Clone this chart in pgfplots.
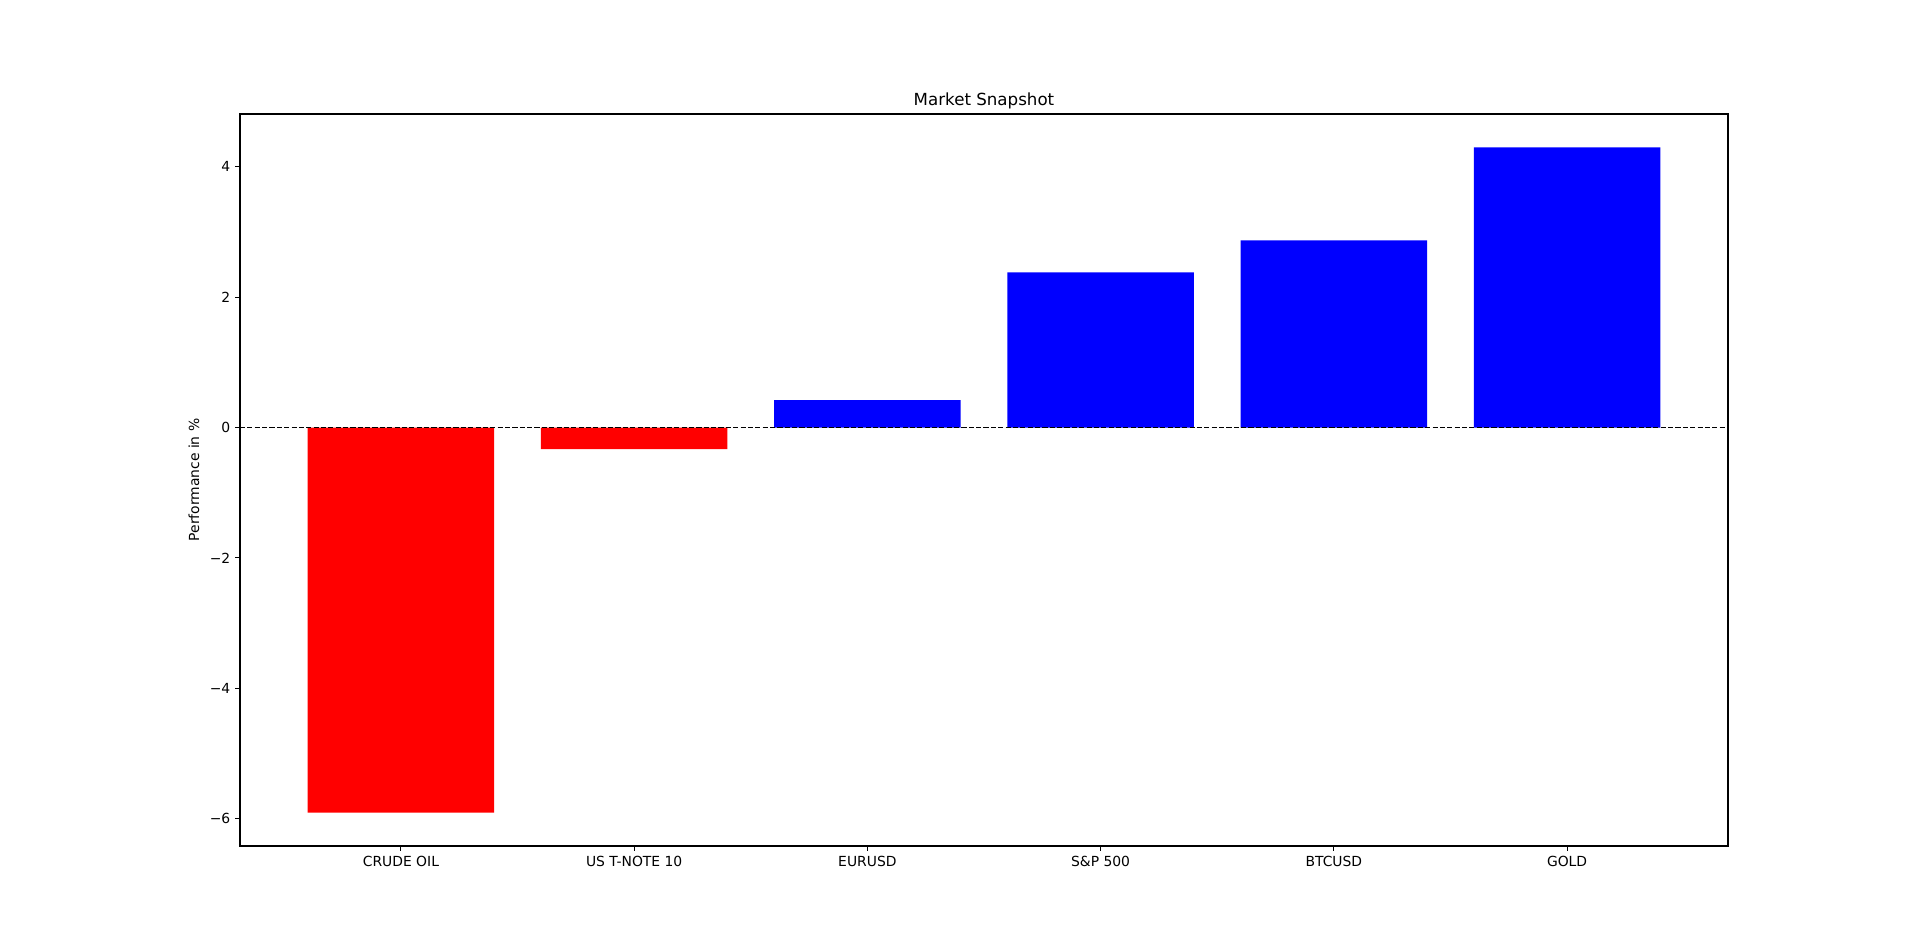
\documentclass[border=0pt]{standalone}
\usepackage{pgfplots}
\pgfplotsset{compat=1.18}
\usepackage{fontspec}
\setmainfont{DejaVu Sans}
\begin{document}
\begin{tikzpicture}
\useasboundingbox (-172.8pt,-75.6pt) rectangle (1209.6pt,609.12pt);
\begin{axis}[
  scale only axis,
  width=1071.36pt, height=527.04pt,
  xmin=-0.69, xmax=5.69,
  ymin=-6.4205, ymax=4.8105,
  axis line style={line width=0.8pt},
  tick style={line width=0.8pt, black},
  tick align=outside,
  major tick length=3.5pt,
  tick pos=left,
  xtick={0,1,2,3,4,5},
  xticklabels={CRUDE OIL, US T-NOTE 10, EURUSD, S\&P 500, BTCUSD, GOLD},
  ytick={-6,-4,-2,0,2,4},
  yticklabels={−6,−4,−2,0,2,4},
  ticklabel style={font=\fontsize{10}{12}\selectfont},
  xticklabel style={yshift=-0.5pt},
  ylabel={Performance in \%},
  ylabel style={font=\fontsize{10}{12}\selectfont, yshift=0.7pt},
  title={Market Snapshot},
  title style={font=\fontsize{12}{14}\selectfont, at={(0.5,1)}, anchor=base, yshift=0pt},
]
\addplot[ybar, fill=red, draw=none, bar width=0.8, bar shift=0pt] coordinates {(0,-5.91) (1,-0.33)};
\addplot[ybar, fill=blue, draw=none, bar width=0.8, bar shift=0pt] coordinates {(2,0.42) (3,2.38) (4,2.87) (5,4.30)};
\draw[black, line width=1pt, dash pattern=on 3.7pt off 1.6pt] (axis cs:-0.69,0) -- (axis cs:5.69,0);
\end{axis}
\end{tikzpicture}
\end{document}
